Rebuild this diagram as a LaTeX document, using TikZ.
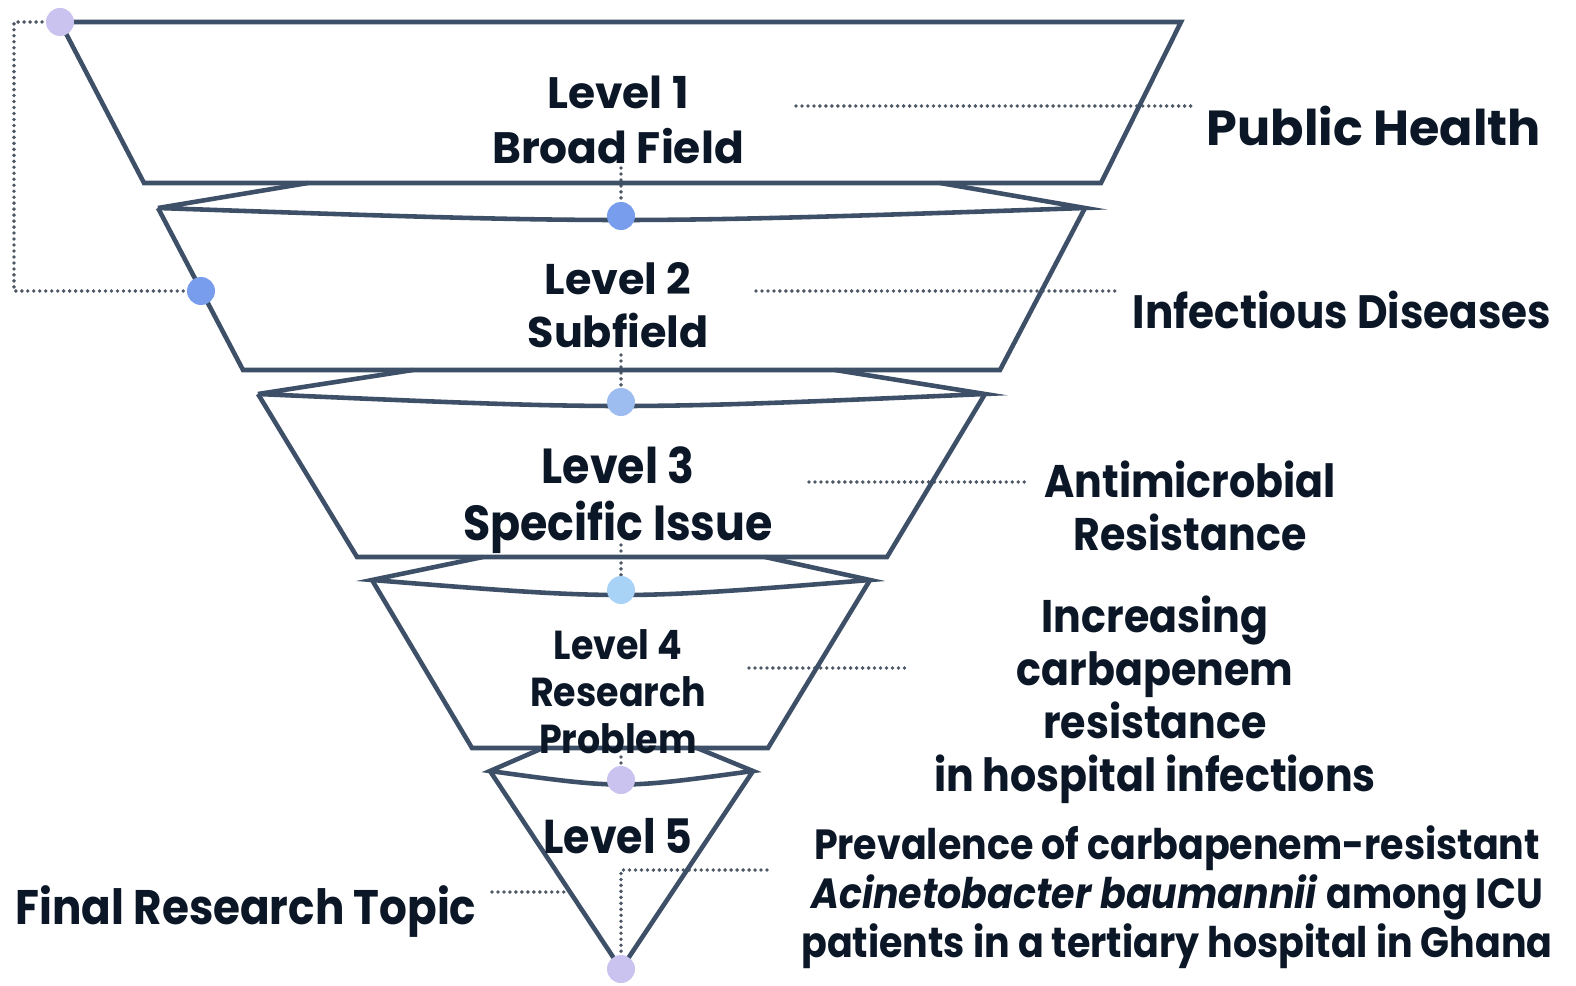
\documentclass[tikz,border=0pt]{standalone}
\usepackage{fontspec}
\setmainfont{Poppins}
\newfontfamily\slimfont{Poppins}[FakeStretch=0.9]
\definecolor{funnelline}{HTML}{3E5068}
\definecolor{inktext}{HTML}{0B1626}
\definecolor{leadgray}{HTML}{4F5866}
\definecolor{dotlav}{HTML}{CAC3EF}
\definecolor{dotblue}{HTML}{779DEC}
\definecolor{dotsky}{HTML}{9DBDF0}
\definecolor{dotcyan}{HTML}{A9D3F6}
\tikzset{
  funnel/.style={draw=funnelline, line width=1.3pt, line join=miter},
  leader/.style={draw=leadgray, line width=1.1pt, line cap=round, dash pattern=on 0pt off 1.7pt},
  knot/.style={circle, inner sep=0pt, minimum size=0.27cm},
  label/.style={text=inktext, align=center, inner sep=0pt}
}

\begin{document}
\begin{tikzpicture}[x=0.01cm,y=-0.01cm]
  \useasboundingbox[fill=white] (0,0) rectangle (1576,985);
  % corners of the funnel
  \coordinate (t1a) at (60,22);   \coordinate (t1b) at (1181,22);
  \coordinate (t1c) at (1101,183); \coordinate (t1d) at (144,183);
  \coordinate (t2a) at (158,208);  \coordinate (t2b) at (1085,208);
  \coordinate (t2c) at (1000,370); \coordinate (t2d) at (243,370);
  \coordinate (t3a) at (258,394);  \coordinate (t3b) at (985,394);
  \coordinate (t3c) at (887,557);  \coordinate (t3d) at (357,557);
  \coordinate (t4a) at (372,580);  \coordinate (t4b) at (870,580);
  \coordinate (t4c) at (768,748);  \coordinate (t4d) at (472,748);
  \coordinate (t5a) at (490,771);  \coordinate (t5b) at (753,771);
  \coordinate (t5c) at (621,969);
  % dots
  \node[knot] (d0) at (60,22) {};
  \node[knot] (dl) at (201,291) {};
  \node[knot] (d1) at (621,216) {};
  \node[knot] (d2) at (621,402) {};
  \node[knot] (d3) at (621,590) {};
  \node[knot] (d4) at (621,780) {};
  \node[knot] (d5) at (621,969) {};
  % dotted leaders
  \coordinate (bk) at (14,22);
  \draw[leader] (d0.center) -- (bk) |- (dl.center);
  \coordinate (l1a) at (796,106);  \coordinate (l1b) at (1195,106);
  \coordinate (l2a) at (756,291);  \coordinate (l2b) at (1118,291);
  \coordinate (l3a) at (809,482);  \coordinate (l3b) at (1030,482);
  \coordinate (l4a) at (749,668);  \coordinate (l4b) at (910,668);
  \coordinate (f5a) at (492,892);  \coordinate (f5b) at (567,892);
  \draw[leader] (l1a) -- (l1b);
  \draw[leader] (l2a) -- (l2b);
  \draw[leader] (l3a) -- (l3b);
  \draw[leader] (l4a) -- (l4b);
  \draw[leader] (f5a) -- (f5b);
  \coordinate (v1) at (621,168);
  \coordinate (v2) at (621,355);
  \coordinate (v3) at (621,545);
  \coordinate (v4) at (621,757);
  \coordinate (v5) at (621,870);
  \coordinate (h5) at (767,870);
  \draw[leader] (v1) -- (d1.center);
  \draw[leader] (v2) -- (d2.center);
  \draw[leader] (v3) -- (d3.center);
  \draw[leader] (v4) -- (d4.center);
  \draw[leader] (h5) -- (v5) -- (d5.center);
  % funnel
  \draw[funnel] (t1a) -- (t1b) -- (t1c) -- (t1d) -- cycle;
  \draw[funnel] (308,183) -- (t2a) .. controls (621,224) .. (t2b) -- (940,183);
  \draw[funnel] (t2a) -- (t2d) -- (t2c) -- (t2b);
  \draw[funnel] (413,370) -- (t3a) .. controls (621,410) .. (t3b) -- (835,370);
  \draw[funnel] (t3a) -- (t3d) -- (t3c) -- (t3b);
  \draw[funnel] (483,557) -- (t4a) .. controls (621,600) .. (t4b) -- (765,557);
  \draw[funnel] (t4a) -- (t4d) -- (t4c) -- (t4b);
  \draw[funnel] (543,748) -- (t5a) .. controls (621,789) .. (t5b) -- (697,748);
  \draw[funnel] (t5a) -- (t5c) -- (t5b);
  % dot fills on top
  \fill[dotlav]  (d0) circle (14);
  \fill[dotblue] (dl) circle (14);
  \fill[dotblue] (d1) circle (14);
  \fill[dotsky]  (d2) circle (14);
  \fill[dotcyan] (d3) circle (14);
  \fill[dotlav]  (d4) circle (14);
  \fill[dotlav]  (d5) circle (14);
  % level texts
  \node[label, font=\bfseries\fontsize{12.5}{15.6}\selectfont] (lv1) at (618,120) {Level 1\\Broad Field};
  \node[label, font=\bfseries\fontsize{12.2}{15.1}\selectfont] (lv2) at (618,305) {Level 2\\Subfield};
  \node[label, font=\slimfont\bfseries\fontsize{14}{16.2}\selectfont] (lv3) at (618,500) {Level 3\\Specific Issue};
  \node[label, font=\slimfont\bfseries\fontsize{11.5}{13.4}\selectfont] (lv4) at (618,692) {Level 4\\Research\\Problem};
  \node[label, font=\slimfont\bfseries\fontsize{13.5}{15}\selectfont] (lv5) at (618,836) {Level 5};
  % examples on the side
  \node[label, font=\bfseries\fontsize{14}{16}\selectfont] (ex1) at (1374,126) {Public Health};
  \node[label, font=\slimfont\bfseries\fontsize{13.3}{16}\selectfont] (ex2) at (1342,310) {Infectious Diseases};
  \node[label, font=\slimfont\bfseries\fontsize{13}{15.1}\selectfont] (ex3) at (1190,506) {Antimicrobial\\Resistance};
  \node[label, font=\slimfont\bfseries\fontsize{13}{15.1}\selectfont] (ex4) at (1155,700) {Increasing\\carbapenem\\resistance\\in hospital infections};
  \node[label, font=\slimfont\bfseries\fontsize{12}{13.9}\selectfont] (ex5) at (1177,897) {Prevalence of carbapenem-resistant\\\textit{Acinetobacter baumannii} among ICU\\patients in a tertiary hospital in Ghana};
  \node[label, font=\slimfont\bfseries\fontsize{13.8}{16}\selectfont] (fin) at (246,912) {Final Research Topic};
\end{tikzpicture}
\end{document}
